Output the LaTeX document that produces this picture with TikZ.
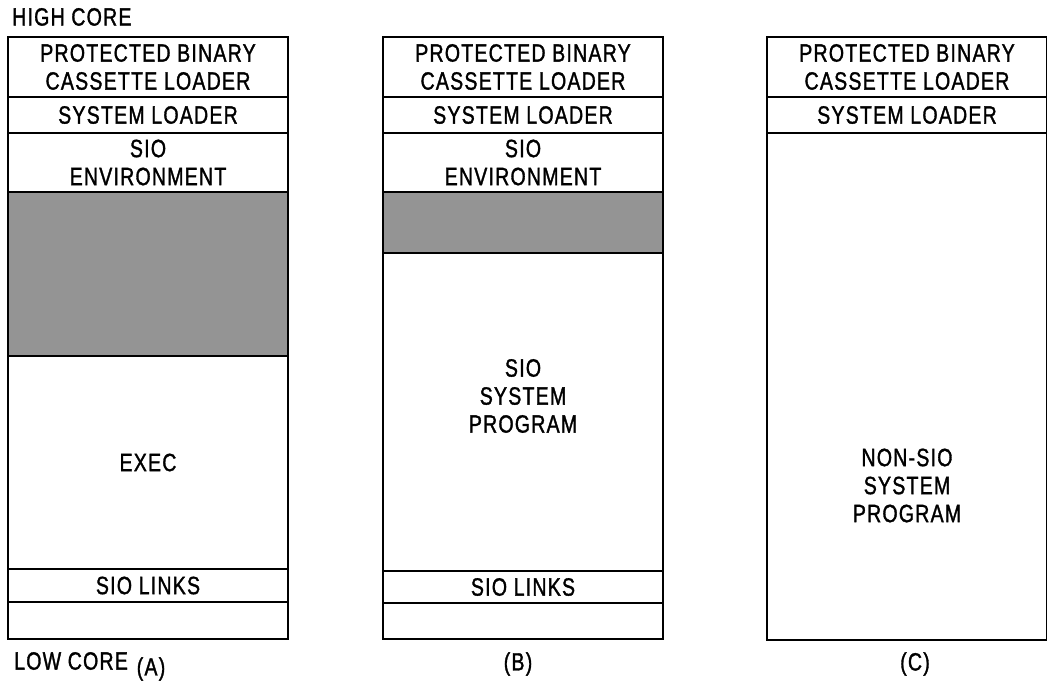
\documentclass[tikz,border=0pt]{standalone}
\usepackage{fontspec}
\setmainfont[FakeStretch=0.78,FakeBold=1.3,LetterSpace=5]{Liberation Sans}
\usepackage{tikz}
\usetikzlibrary{positioning}

\begin{document}
\begin{tikzpicture}[
  x=1pt, y=-1pt,
  node distance=0pt,
  every node/.style={font=\fontsize{25}{28}\selectfont, align=center},
  region/.style={draw, line width=1.8pt, minimum width=280pt, inner sep=0pt, outer sep=0pt},
  shaded/.style={region, fill=black!42},
  txt/.style={inner sep=0pt},
]
  \useasboundingbox (0,0) rectangle (1047,683);

  % column (A)
  \node[region, minimum height=60pt, anchor=north west] (pbA) at (8,37)
    {\fontsize{25}{25}\selectfont PROTECTED BINARY\\CASSETTE LOADER};
  \node[region, minimum height=36pt, below=of pbA] (slA) {SYSTEM LOADER};
  \node[region, minimum height=59pt, below=of slA] (envA) {SIO\\ENVIRONMENT};
  \node[shaded, minimum height=164pt, below=of envA] (freeA) {};
  \node[region, minimum height=213pt, below=of freeA] (execA) {EXEC};
  \node[region, minimum height=33pt, below=of execA] (lnkA) {SIO LINKS};
  \node[region, minimum height=37pt, below=of lnkA] (lowA) {};

  % column (B)
  \node[region, minimum height=60pt, anchor=north west] (pbB) at (383,37)
    {\fontsize{25}{25}\selectfont PROTECTED BINARY\\CASSETTE LOADER};
  \node[region, minimum height=36pt, below=of pbB] (slB) {SYSTEM LOADER};
  \node[region, minimum height=59pt, below=of slB] (envB) {SIO\\ENVIRONMENT};
  \node[shaded, minimum height=61pt, below=of envB] (freeB) {};
  \node[region, minimum height=318pt, below=of freeB] (progB) {};
  \node[region, minimum height=32pt, below=of progB] (lnkB) {SIO LINKS};
  \node[region, minimum height=36pt, below=of lnkB] (lowB) {};
  \node[txt] (progBt) at ([yshift=16pt]progB.center) {SIO\\SYSTEM\\PROGRAM};

  % column (C)
  \node[region, minimum height=60pt, anchor=north west] (pbC) at (767,37)
    {\fontsize{25}{25}\selectfont PROTECTED BINARY\\CASSETTE LOADER};
  \node[region, minimum height=36pt, below=of pbC] (slC) {SYSTEM LOADER};
  \node[region, minimum height=507pt, below=of slC] (progC) {};
  \node[txt] (progCt) at ([yshift=-99pt]progC.center) {NON-SIO\\SYSTEM\\PROGRAM};

  % labels
  \node[txt, anchor=south west] (high) at (12,26) {HIGH CORE};
  \node[txt, anchor=west] (low) at (14,661) {LOW CORE};
  \node[txt] (capA) at (151,669) {(A)};
  \node[txt] (capB) at (518,664) {(B)};
  \node[txt] (capC) at (915,664) {(C)};
\end{tikzpicture}
\end{document}
